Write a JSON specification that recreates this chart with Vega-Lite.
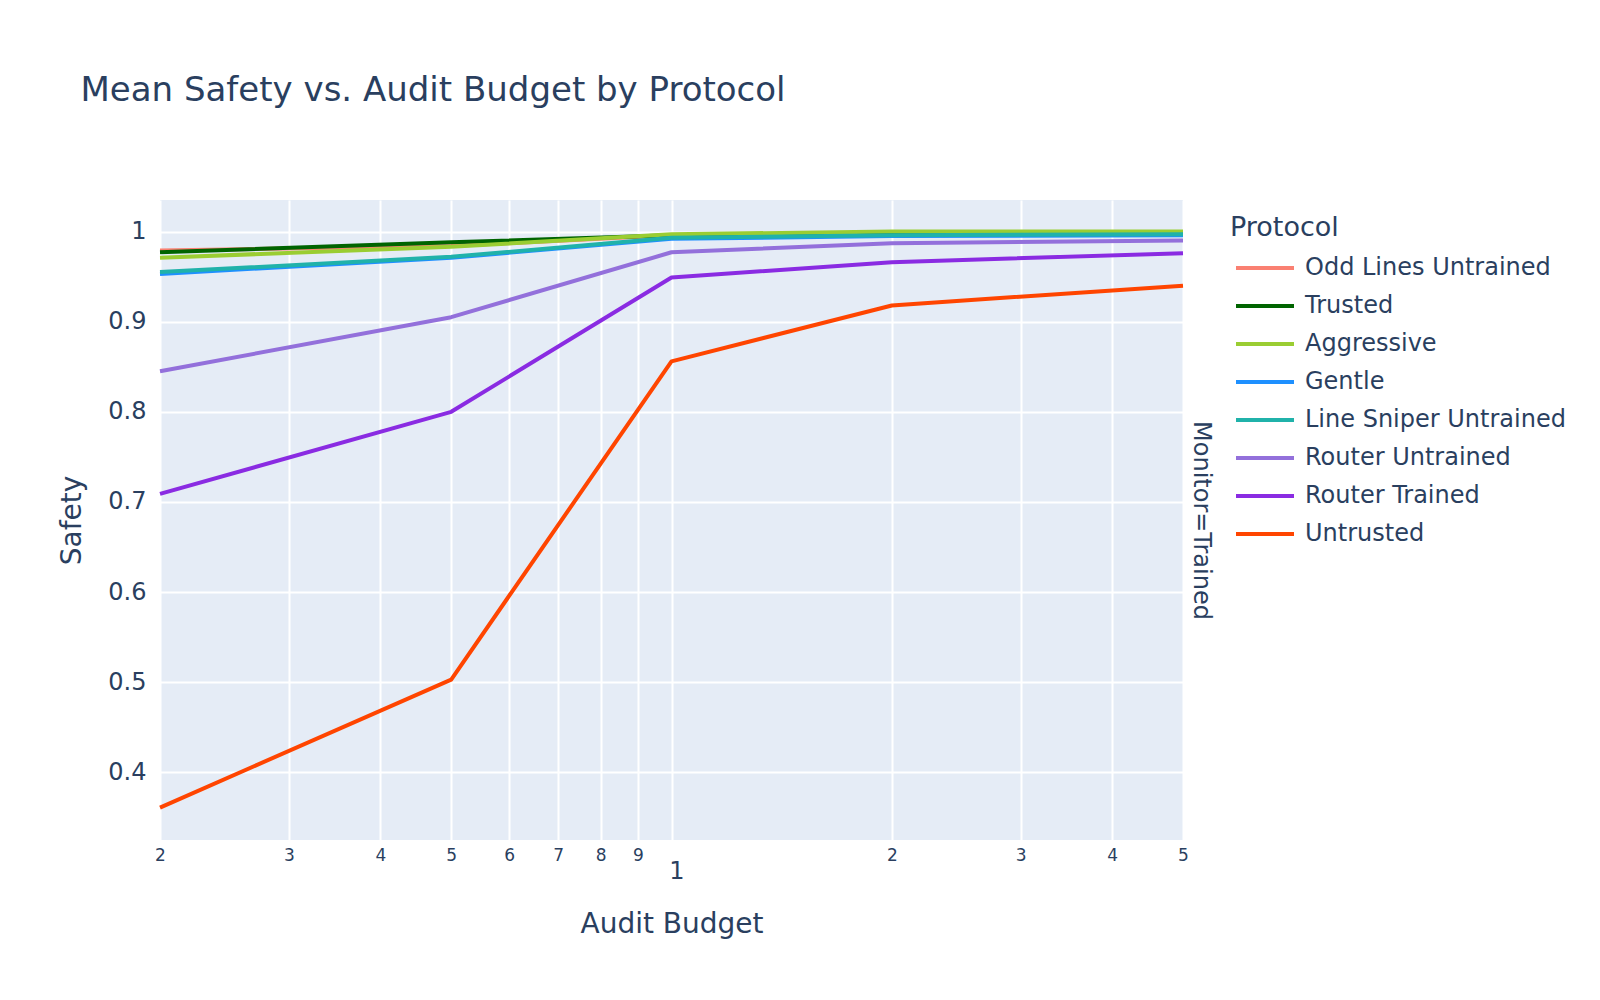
{
  "$schema": "https://vega.github.io/schema/vega-lite/v6.json",
  "width": 1023,
  "height": 640,
  "autosize": {"type": "none"},
  "padding": {"left": 160, "top": 200, "right": 417, "bottom": 160},
  "background": "white",
  "title": {
    "text": "Mean Safety vs. Audit Budget by Protocol",
    "anchor": "start",
    "frame": "group",
    "dx": -79.5,
    "offset": 65,
    "baseline": "alphabetic",
    "fontSize": 34,
    "font": "DejaVu Sans",
    "fontWeight": "normal",
    "color": "#2a3f5f"
  },
  "config": {
    "font": "DejaVu Sans",
    "view": {"fill": "#E5ECF6", "stroke": null},
    "axis": {
      "gridColor": "white",
      "gridWidth": 2,
      "gridOpacity": 1,
      "domain": false,
      "ticks": false,
      "tickSize": 0,
      "labelColor": "#2a3f5f",
      "titleColor": "#2a3f5f",
      "labelFont": "DejaVu Sans",
      "titleFont": "DejaVu Sans",
      "titleFontWeight": "normal",
      "labelFlush": false,
      "labelOverlap": false,
      "labelBound": false
    }
  },
  "data": {
    "values": [
      {"p": "Odd Lines Untrained", "b": 0.2, "s": 0.979},
      {"p": "Odd Lines Untrained", "b": 0.5, "s": 0.984},
      {"p": "Odd Lines Untrained", "b": 1, "s": 0.996},
      {"p": "Odd Lines Untrained", "b": 2, "s": 0.998},
      {"p": "Odd Lines Untrained", "b": 5, "s": 0.999},
      {"p": "Trusted", "b": 0.2, "s": 0.977},
      {"p": "Trusted", "b": 0.5, "s": 0.988},
      {"p": "Trusted", "b": 1, "s": 0.996},
      {"p": "Trusted", "b": 2, "s": 0.998},
      {"p": "Trusted", "b": 5, "s": 0.999},
      {"p": "Aggressive", "b": 0.2, "s": 0.971},
      {"p": "Aggressive", "b": 0.5, "s": 0.983},
      {"p": "Aggressive", "b": 1, "s": 0.997},
      {"p": "Aggressive", "b": 2, "s": 1.0},
      {"p": "Aggressive", "b": 5, "s": 1.0},
      {"p": "Gentle", "b": 0.2, "s": 0.953},
      {"p": "Gentle", "b": 0.5, "s": 0.971},
      {"p": "Gentle", "b": 1, "s": 0.992},
      {"p": "Gentle", "b": 2, "s": 0.995},
      {"p": "Gentle", "b": 5, "s": 0.996},
      {"p": "Line Sniper Untrained", "b": 0.2, "s": 0.955},
      {"p": "Line Sniper Untrained", "b": 0.5, "s": 0.972},
      {"p": "Line Sniper Untrained", "b": 1, "s": 0.993},
      {"p": "Line Sniper Untrained", "b": 2, "s": 0.996},
      {"p": "Line Sniper Untrained", "b": 5, "s": 0.997},
      {"p": "Router Untrained", "b": 0.2, "s": 0.845},
      {"p": "Router Untrained", "b": 0.5, "s": 0.905},
      {"p": "Router Untrained", "b": 1, "s": 0.977},
      {"p": "Router Untrained", "b": 2, "s": 0.987},
      {"p": "Router Untrained", "b": 5, "s": 0.990},
      {"p": "Router Trained", "b": 0.2, "s": 0.709},
      {"p": "Router Trained", "b": 0.5, "s": 0.800},
      {"p": "Router Trained", "b": 1, "s": 0.949},
      {"p": "Router Trained", "b": 2, "s": 0.966},
      {"p": "Router Trained", "b": 5, "s": 0.976},
      {"p": "Untrusted", "b": 0.2, "s": 0.361},
      {"p": "Untrusted", "b": 0.5, "s": 0.503},
      {"p": "Untrusted", "b": 1, "s": 0.856},
      {"p": "Untrusted", "b": 2, "s": 0.918},
      {"p": "Untrusted", "b": 5, "s": 0.940}
    ]
  },
  "layer": [
    {
      "mark": {"type": "line", "strokeWidth": 4, "strokeJoin": "round"},
      "encoding": {
        "x": {
          "field": "b",
          "type": "quantitative",
          "scale": {"type": "log", "domain": [0.2, 5], "nice": false},
          "axis": {
            "orient": "bottom",
            "values": [0.2, 0.3, 0.4, 0.5, 0.6, 0.7, 0.8, 0.9, 1, 2, 3, 4, 5],
            "labelExpr": "datum.value == 1 ? '' : (datum.value < 1 ? format(datum.value * 10, '.0f') : format(datum.value, '.0f'))",
            "labelFontSize": 17,
            "labelBaseline": "alphabetic",
            "labelPadding": 20,
            "grid": true,
            "title": "Audit Budget",
            "titleFontSize": 28,
            "titleBaseline": "alphabetic",
            "titleAlign": "center",
            "titleX": 511.5,
            "titleY": 92
          }
        },
        "y": {
          "field": "s",
          "type": "quantitative",
          "scale": {"domain": [0.325, 1.035], "nice": false, "zero": false},
          "axis": {
            "orient": "left",
            "values": [0.4, 0.5, 0.6, 0.7, 0.8, 0.9, 1],
            "labelExpr": "format(datum.value, '.1~f')",
            "labelFontSize": 24,
            "labelPadding": 14,
            "grid": true,
            "title": "Safety",
            "titleFontSize": 28,
            "titleAngle": 270,
            "titleBaseline": "alphabetic",
            "titleAlign": "center",
            "titleX": -79.5,
            "titleY": 320
          }
        },
        "color": {
          "field": "p",
          "type": "nominal",
          "scale": {
            "domain": ["Odd Lines Untrained", "Trusted", "Aggressive", "Gentle", "Line Sniper Untrained", "Router Untrained", "Router Trained", "Untrusted"],
            "range": ["#FA8072", "#006400", "#9ACD32", "#1E90FF", "#20B2AA", "#9370DB", "#8A2BE2", "#FF4500"]
          },
          "legend": {
            "orient": "none",
            "legendX": 1070,
            "legendY": 15,
            "padding": 0,
            "title": "Protocol",
            "titleFontSize": 27,
            "titleFont": "DejaVu Sans",
            "titleFontWeight": "normal",
            "titleColor": "#2a3f5f",
            "titlePadding": 14,
            "labelFontSize": 24,
            "labelFont": "DejaVu Sans",
            "labelColor": "#2a3f5f",
            "labelLimit": 0,
            "symbolType": "M-0.6,0H5.2",
            "symbolSize": 400,
            "symbolStrokeWidth": 4,
            "rowPadding": 14,
            "labelOffset": 51
          }
        }
      }
    },
    {
      "mark": {"type": "line", "opacity": 0},
      "encoding": {
        "detail": {"field": "p", "type": "nominal"},
        "x": {
          "field": "b",
          "type": "quantitative",
          "axis": {
            "orient": "bottom",
            "values": [1],
            "labelExpr": "'1'",
            "labelFontSize": 24,
            "labelBaseline": "alphabetic",
            "labelPadding": 38,
            "labelOffset": 5,
            "grid": false,
            "title": null
          }
        },
        "y": {
          "field": "s",
          "type": "quantitative",
          "axis": {
            "orient": "right",
            "labels": false,
            "grid": false,
            "title": "Monitor=Trained",
            "titleFontSize": 24,
            "titleAngle": 90,
            "titleBaseline": "alphabetic",
            "titleAlign": "center",
            "titleX": 10,
            "titleY": 320
          }
        }
      }
    }
  ],
  "resolve": {"axis": {"x": "independent", "y": "independent"}}
}
